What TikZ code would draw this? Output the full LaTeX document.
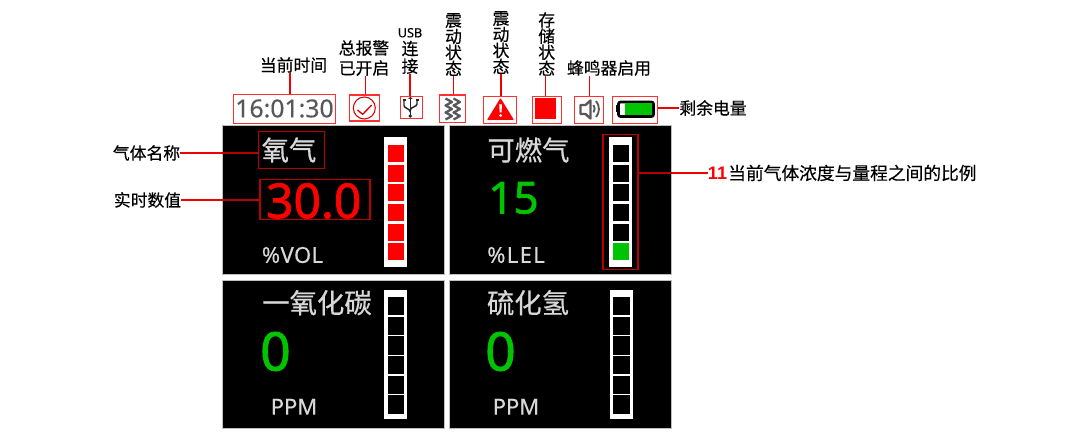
\documentclass[tikz,border=0pt]{standalone}
\usepackage{fontspec}
\setmainfont{Noto Sans}
\newfontfamily\cjk[FakeBold=0.35]{Noto Sans CJK SC}
\newfontfamily\cjkp[FakeBold=0.5]{Noto Sans CJK SC}
\newfontfamily\numf[FakeBold=1.5]{Noto Sans}
\newfontfamily\numb{Liberation Sans}
\newfontfamily\unitf[FakeBold=0.3]{Noto Sans}
\definecolor{rbox}{HTML}{FF3030}
\definecolor{dbox}{HTML}{B80000}
\definecolor{lcol}{HTML}{F00000}
\definecolor{gtxt}{HTML}{D8D8D8}
\definecolor{gval}{HTML}{00C400}
\definecolor{igray}{HTML}{585858}
\newcommand{\pxfont}[2]{\fontsize{#1}{#2}\selectfont\lineskiplimit=-20pt\relax}
\tikzset{
  panel/.style={draw=black!25,line width=0.5pt,fill=black,inner sep=0pt,anchor=north west},
  hibox/.style={draw=rbox,line width=1pt,inner sep=0pt,anchor=north west},
  darkbox/.style={draw=dbox,line width=1pt,inner sep=0pt,anchor=north west},
  lead/.style={draw=lcol,line width=1pt},
  darklead/.style={draw=dbox,line width=1pt},
  capt/.style={text=black,inner sep=0pt,font=\cjk\pxfont{12.6}{15},align=center},
  captv/.style={capt,font=\cjk\pxfont{12.6}{12.1}},
  gasname/.style={text=gtxt,inner sep=0pt,font=\cjkp\pxfont{20.5}{24}},
  unit/.style={text=gtxt,inner sep=0pt,font=\unitf\pxfont{16.5}{20}},
  barframe/.style={fill=white,inner sep=0pt,anchor=north west,minimum width=17.25pt},
  cell/.style={inner sep=0pt,anchor=north west,minimum width=12.5pt},
}
\begin{document}
\begin{tikzpicture}[x=0.75pt,y=-0.75pt]
\useasboundingbox (0,0) rectangle (1080,438);
% panels
\node[panel,minimum width=166.5pt,minimum height=111.75pt] (p1) at (221.5,125) {};
\node[panel,minimum width=166.5pt,minimum height=111.75pt] (p2) at (449,125) {};
\node[panel,minimum width=166.5pt,minimum height=111pt] (p3) at (221.5,280) {};
\node[panel,minimum width=166.5pt,minimum height=111pt] (p4) at (449,280) {};
% level bars
\foreach \bn/\bx/\by/\bh in {b1/384/137/97.5,b2/609/137/97.5,b3/384/290/96.75,b4/609.5/290/96.75}{
  \node[barframe,minimum height=\bh pt] (\bn) at (\bx,\by) {};
}
\foreach \i in {0,...,5}{
  \node[cell,fill=red,minimum height=12.75pt] at (387.5,144.7+19.7*\i) {};
  \node[cell,fill=black,minimum height=12.75pt] at (612.5,144.7+19.7*\i) {};
  \node[cell,fill=black,minimum height=13.6pt] at (387.3,296.7+19.7*\i) {};
  \node[cell,fill=black,minimum height=13.6pt] at (612.8,296.7+19.7*\i) {};
}
\node[cell,fill=gval,minimum height=12.75pt] at (612.5,243.2) {};
% panel text
\node[gasname] (n1) at (289,150) {氧气};
\node[gasname] (n2) at (528.5,150) {可燃气};
\node[gasname] (n3) at (317,302.7) {一氧化碳};
\node[gasname] (n4) at (528,302.7) {硫化氢};
\node[text=red,inner sep=0pt,font=\numf\pxfont{36}{40}] (v1) at (313.7,201) {30.0};
\node[text=gval,inner sep=0pt,font=\numf\pxfont{33}{36}] (v2) at (513.5,198) {15};
\node[text=gval,inner sep=0pt,font=\numf\pxfont{40}{44}] (v3) at (275.5,351.5) {0};
\node[text=gval,inner sep=0pt,font=\numf\pxfont{40}{44}] (v4) at (500.5,351.5) {0};
\node[unit] (u1) at (292.5,255) {\addfontfeature{LetterSpace=2}\%VOL};
\node[unit] (u2) at (516,255) {\addfontfeature{LetterSpace=6}\%LEL};
\node[unit] (u3) at (294,406.7) {PPM};
\node[unit] (u4) at (516,406.7) {PPM};
% status row boxes
\node[hibox,minimum width=76.5pt,minimum height=21.5pt] (tbox) at (233,94) {};
\node[text=igray,inner sep=0pt,font=\unitf\pxfont{18.6}{22}] (ttxt) at (284.5,108.5) {16:01:30};
\node[hibox,minimum width=22.5pt,minimum height=19.5pt] (abox) at (349,94.5) {};
\node[hibox,minimum width=16.5pt,minimum height=16.5pt] (ubox) at (400,96) {};
\node[hibox,minimum width=19.5pt,minimum height=20.5pt] (vbox) at (439,94.5) {};
\node[hibox,minimum width=24.75pt,minimum height=20.25pt] (wbox) at (483,96) {};
\node[hibox,minimum width=21.75pt,minimum height=20.25pt] (sbox) at (532,96) {};
\node[hibox,minimum width=21.75pt,minimum height=20.25pt] (spbox) at (574,96) {};
\node[hibox,minimum width=33.75pt,minimum height=20.25pt] (bbox) at (612,96) {};
% alarm icon
\draw[red!85!black,line width=0.8pt] (364.3,108) circle (11);
\draw[red!85!black,line width=1pt] (357.5,110) -- (362.7,114.3) -- (371.7,105);
% usb icon
\draw[black!85,line width=1.1pt] (410.3,99) -- (410.3,116);
\draw[black!85,line width=1.1pt] (404,101) -- (404,105.5) .. controls (404,108.5) and (410.3,108.5) .. (410.3,112);
\draw[black!85,line width=1.1pt] (417,101) -- (417,104) .. controls (417,107) and (410.3,107) .. (410.3,110);
\fill[black!85] (408,99) -- (412.6,99) -- (410.3,96.8) -- cycle;
\fill[black!85] (402.5,98.8) rectangle (405.5,101.5);
\fill[black!85] (415.5,98.8) rectangle (418.5,101.5);
\fill[black!85] (410.3,116) circle (1.9);
% vibration icon
\foreach \ox in {0,8}{
  \draw[igray,line width=1.7pt,line join=round] (445.5+\ox,98.5) -- (452+\ox,102) -- (445.5+\ox,105.5) -- (452+\ox,109) -- (445.5+\ox,112.5) -- (452+\ox,116) -- (445.5+\ox,119.5);
}
% warning icon
\fill[red,rounded corners=0.6pt] (487,120) -- (500.5,98) -- (514,120) -- cycle;
\fill[white] (499.2,104.5) -- (502,104.5) -- (501.5,112.5) -- (499.7,112.5) -- cycle;
\fill[white] (500.6,115.6) circle (1.5);
% storage icon
\fill[red] (535,98.5) rectangle (556,119);
% speaker icon
\draw[igray,line width=1.8pt,line join=round] (580.5,105) -- (585.5,105) -- (590.5,100.5) -- (590.5,118.5) -- (585.5,114) -- (580.5,114) -- cycle;
\draw[igray,line width=1.4pt] (593.5,105) arc (-35:35:6.5);
\draw[igray,line width=1.4pt] (596,101) arc (-40:40:12.5);
% battery icon
\draw[black,line width=2pt,rounded corners=1.5pt] (618.5,102) rectangle (653.5,116.5);
\fill[black] (615.5,105.5) rectangle (618,112.5);
\fill[gval] (625,103.5) rectangle (651.5,115);
% captions on top
\node[capt] (tl) at (293.5,65) {当前时间};
\node[capt,font=\cjk\pxfont{12.6}{15}] (al) at (364,58) {总报警\\已开启};
\node[capt,font=\cjk\pxfont{12.6}{13.2}] (ul) at (410,51) {{\unitf\pxfont{9.5}{13.2}USB}\\连\\接};
\node[captv] (vl) at (453.5,44.5) {震\\动\\状\\态};
\node[captv] (wl) at (501,42.5) {震\\动\\状\\态};
\node[captv] (sl) at (546.7,44) {存\\储\\状\\态};
\node[capt] (spl) at (609,68) {蜂鸣器启用};
\node[capt] (bl) at (713,108) {剩余电量};
\node[capt] (gl) at (146.5,153) {气体名称};
\node[capt] (rl) at (147.5,200) {实时数值};
\node[text=red,inner sep=0pt,font=\numb\bfseries\pxfont{13.6}{16}] (num) at (717.5,173) {11};
\node[capt,font=\cjk\pxfont{13.3}{16},anchor=west] (ratio) at (728,173) {当前气体浓度与量程之间的比例};
% dark highlight boxes
\node[darkbox,minimum width=49.5pt,minimum height=27.75pt] (nbox) at (258,131) {};
\node[darkbox,minimum width=82.5pt,minimum height=30pt] (vbx) at (259.3,179) {};
\node[darkbox,minimum width=26.25pt,minimum height=101.25pt] (rbx) at (602.3,134) {};
% connectors
\draw[lead] ([xshift=-2.6pt]tl.south) -- ([xshift=-2.6pt]tl.south |- tbox.north);
\draw[lead] ([xshift=1.3pt]al.south) -- ([xshift=1.3pt]al.south |- abox.north);
\draw[lead] (ul.south) -- (ul.south |- ubox.north);
\draw[lead] (vl.south) -- (vl.south |- vbox.north);
\draw[lead] (wl.south) -- (wl.south |- wbox.north);
\draw[lead] ([xshift=-0.7pt]sl.south) -- ([xshift=-0.7pt]sl.south |- sbox.north);
\draw[lead] ([xshift=0.4pt]spbox.north) -- ++(0,-20);
\draw[lead] (bbox.east |- bl.west) -- (bl.west);
\draw[lead] (gl.east) -- (gl.east -| p1.west);
\draw[darklead] (gl.east -| p1.west) -- (nbox.west |- gl.east);
\draw[lead] (rl.east) -- (rl.east -| p1.west);
\draw[darklead] (rl.east -| p1.west) -- (vbx.west |- rl.east);
\draw[darklead] (rbx.east |- num.west) -- (num.west -| p2.east);
\draw[lead] (num.west -| p2.east) -- (num.west);
\end{tikzpicture}
\end{document}
